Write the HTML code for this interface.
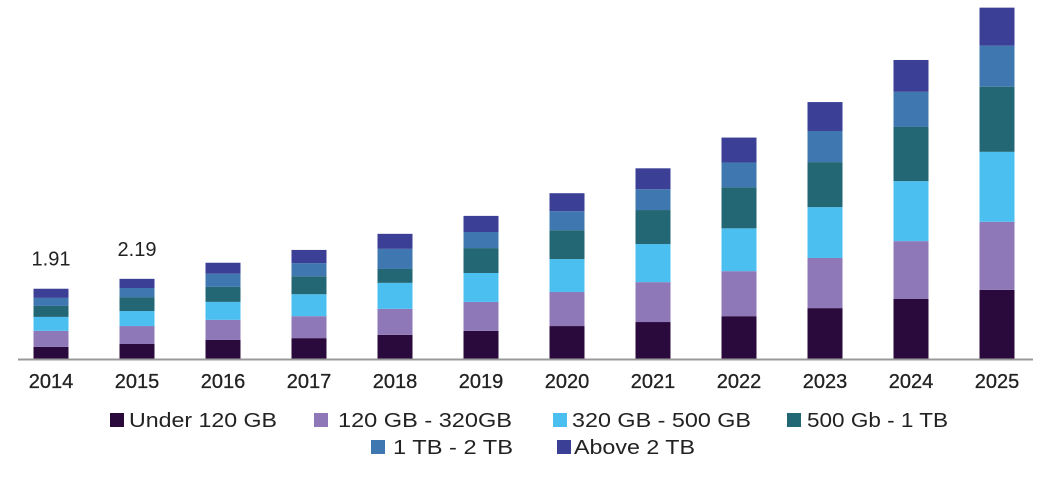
<!DOCTYPE html>
<html><head><meta charset="utf-8"><style>
body{margin:0;background:#fff;width:1054px;height:480px;overflow:hidden;font-family:"Liberation Sans",sans-serif}
</style></head><body>
<svg id="chart" width="1054" height="480" style="position:absolute;left:0;top:0"></svg>
<script>
const years=["2014","2015","2016","2017","2018","2019","2020","2021","2022","2023","2024","2025"];
const seriesNames=["Under 120 GB","120 GB - 320GB","320 GB - 500 GB","500 Gb - 1 TB","1 TB - 2 TB","Above 2 TB"];
const colors=["#2a0a3d","#8f78b8","#4bbff0","#236775","#3f77b0","#3b3f95"];
const under120=[0.33,0.41,0.52,0.57,0.66,0.77,0.90,1.01,1.17,1.39,1.64,1.89];
const gb120_320=[0.44,0.49,0.55,0.60,0.71,0.79,0.93,1.09,1.23,1.37,1.58,1.86];
const gb320_500=[0.38,0.41,0.49,0.60,0.71,0.79,0.90,1.04,1.17,1.39,1.64,1.91];
const gb500_1tb=[0.30,0.38,0.41,0.49,0.38,0.68,0.79,0.93,1.12,1.23,1.48,1.78];
const tb1_2=[0.22,0.25,0.36,0.36,0.55,0.44,0.52,0.57,0.68,0.85,0.96,1.12];
const above2tb=[0.25,0.25,0.30,0.36,0.41,0.44,0.49,0.57,0.68,0.79,0.87,1.04];
const valueLabels=["1.91","2.19"];
const series=[under120,gb120_320,gb320_500,gb500_1tb,tb1_2,above2tb];
const NS="http://www.w3.org/2000/svg";
const svg=document.getElementById('chart');
const baseY=359,pxPerUnit=36.6,x0=51,step=86,bw=35;
const xS=i=>x0+i*step;
const yS=v=>baseY-v*pxPerUnit;
function mk(t,a){const e=document.createElementNS(NS,t);for(const k in a)e.setAttribute(k,a[k]);svg.appendChild(e);return e;}
years.forEach((yr,i)=>{
  let cum=0;
  series.forEach((s,j)=>{
    const r=mk('rect',{x:xS(i)-bw/2,y:yS(cum+s[i]),width:bw,height:s[i]*pxPerUnit,fill:colors[j]});
    
    
    cum+=s[i];
  });
  const t=mk('text',{x:xS(i),y:388,'text-anchor':'middle','font-size':'20',fill:'#222',stroke:'#222','stroke-width':0.3});
  t.textContent=yr;
  
  
  if(i<valueLabels.length){
    const lb=mk('text',{x:xS(i),y:yS(cum)-23,'text-anchor':'middle','font-size':'20',fill:'#222'});
    lb.textContent=valueLabels[i];
    
    
  }
});
const ax=mk('line',{x1:18,x2:1033,y1:baseY+0.5,y2:baseY+0.5,stroke:'#999','stroke-width':2});


const legSw=[110,314,553,787,371,557];
const legTx=[[129,277],[338,512],[572,751],[807,948],[393,513],[574,695]];
const legY=[427,427,427,427,454,454];
seriesNames.forEach((n,j)=>{
  const sw=mk('rect',{x:legSw[j],y:legY[j]-14,width:14,height:14,fill:colors[j]});
  
  
  const t=mk('text',{x:legTx[j][0],y:legY[j],'font-size':'20',fill:'#222',textLength:legTx[j][1]-legTx[j][0],lengthAdjust:'spacingAndGlyphs'});
  t.textContent=n;
  
  
});
</script>
</body></html>
